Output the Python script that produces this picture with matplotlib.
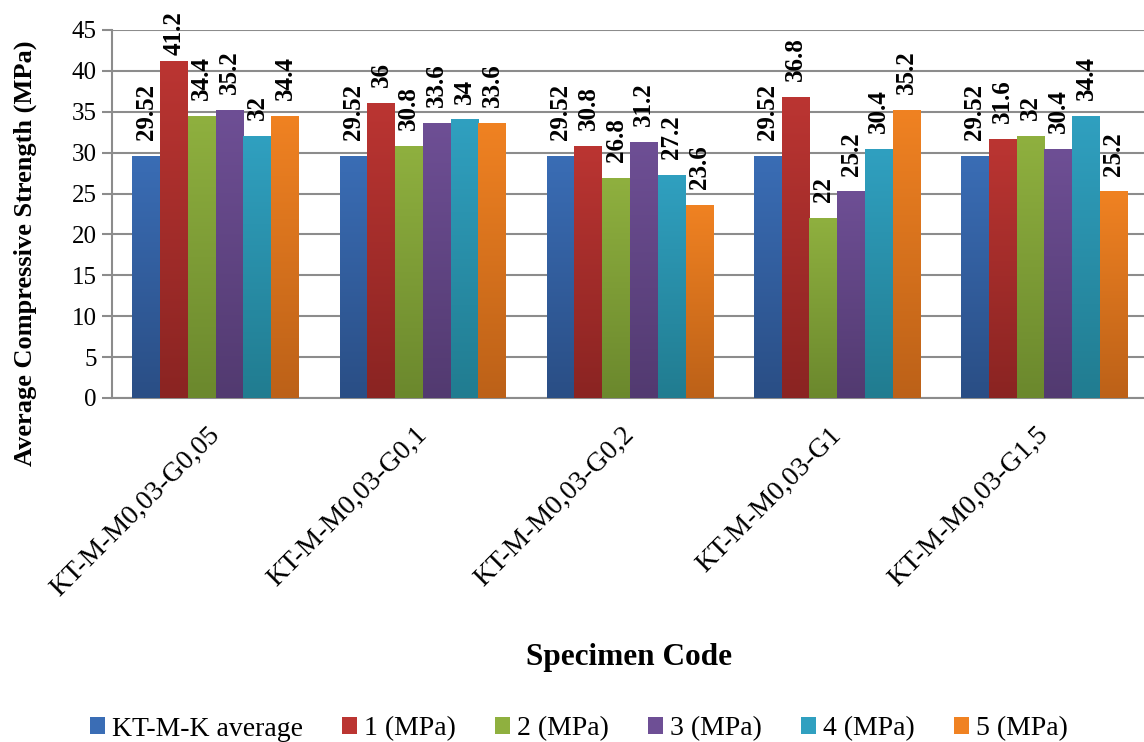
import numpy as np
import matplotlib
matplotlib.use("Agg")
import matplotlib.pyplot as plt
from matplotlib.colors import LinearSegmentedColormap
from matplotlib.patches import Patch

plt.rcParams["font.family"] = ["Liberation Serif", "DejaVu Serif"]

# data
categories = ["KT-M-M0,03-G0,05", "KT-M-M0,03-G0,1", "KT-M-M0,03-G0,2",
              "KT-M-M0,03-G1", "KT-M-M0,03-G1,5"]
series_names = ["KT-M-K average", "1 (MPa)", "2 (MPa)", "3 (MPa)", "4 (MPa)", "5 (MPa)"]
avg = [29.52, 29.52, 29.52, 29.52, 29.52]
mpa1 = [41.2, 36, 30.8, 36.8, 31.6]
mpa2 = [34.4, 30.8, 26.8, 22, 32]
mpa3 = [35.2, 33.6, 31.2, 25.2, 30.4]
mpa4 = [32, 34, 27.2, 30.4, 34.4]
mpa5 = [34.4, 33.6, 23.6, 35.2, 25.2]
series = [avg, mpa1, mpa2, mpa3, mpa4, mpa5]
yticks = [0, 5, 10, 15, 20, 25, 30, 35, 40, 45]

# (top, bottom) gradient colours, Excel 2007 look
colors = [("#3A6DB5", "#2A4E85"),
          ("#BB3532", "#8A2422"),
          ("#8FB03F", "#6B882D"),
          ("#6E4F95", "#523A70"),
          ("#30A0C0", "#217C90"),
          ("#F08222", "#BC6118")]

W, H = 1144, 742
fig = plt.figure(figsize=(W / 100, H / 100), dpi=100)
ax = fig.add_axes([112 / W, 344 / H, (1148 - 112) / W, 368 / H])

grid_col = "#8c8c8c"
x = np.arange(len(categories))
w = 0.134
grad = np.linspace(0, 1, 256).reshape(-1, 1)

for j, vals in enumerate(series):
    top, bot = colors[j]
    cmap = LinearSegmentedColormap.from_list("g%d" % j, [bot, top])
    xs = x + (j - 2.5) * w
    bars = ax.bar(xs, vals, w, color=top, zorder=2, linewidth=0)
    for b, v in zip(bars, vals):
        x0 = b.get_x()
        ax.imshow(grad, extent=[x0, x0 + w, 0, v], origin="lower", cmap=cmap,
                  aspect="auto", zorder=3, interpolation="bilinear")
        # labels get pushed down when they would leave the chart area
        ax.text(x0 + w / 2, min(v + 2.0, 42.0), "{:g}".format(v), rotation=90,
                ha="center", va="bottom", fontsize=18, fontweight="bold",
                zorder=4, clip_on=False)

ax.set_xlim(-0.5, len(categories) - 0.5)
ax.set_ylim(0, 45)
ax.set_yticks(yticks, labels=[str(t) for t in yticks],
              fontsize=18, family="Liberation Serif")
ax.set_axisbelow(True)
ax.yaxis.grid(True, color=grid_col, linewidth=1.5, zorder=0)

for s in ["top", "right"]:
    ax.spines[s].set_visible(False)
for s in ["left", "bottom"]:
    ax.spines[s].set_color(grid_col)
    ax.spines[s].set_linewidth(1.5)

ax.tick_params(axis="y", direction="out", length=7, width=1.5, color=grid_col, pad=4)
ax.tick_params(axis="x", length=0, pad=24)

ax.set_xticks(x)
ax.set_xticklabels(categories, rotation=45, ha="right", va="center",
                   rotation_mode="anchor", fontsize=20)

fig.text(25 / W, 1 - 253 / H, "Average Compressive Strength (MPa)", rotation=90,
         ha="center", va="center", fontsize=19, fontweight="bold")
fig.text(629 / W, 1 - 665 / H, "Specimen Code", ha="center", va="baseline",
         fontsize=22.5, fontweight="bold")

handles = [Patch(facecolor=c[0], edgecolor="none") for c in colors]
fig.legend(handles, series_names, loc="center", bbox_to_anchor=(579 / W, 1 - 729 / H),
           ncol=6, frameon=False, handlelength=0.55, handleheight=0.55,
           handletextpad=0.25, columnspacing=1.4, borderpad=0,
           prop={"size": 20})

fig.savefig("out.png", dpi=100)
